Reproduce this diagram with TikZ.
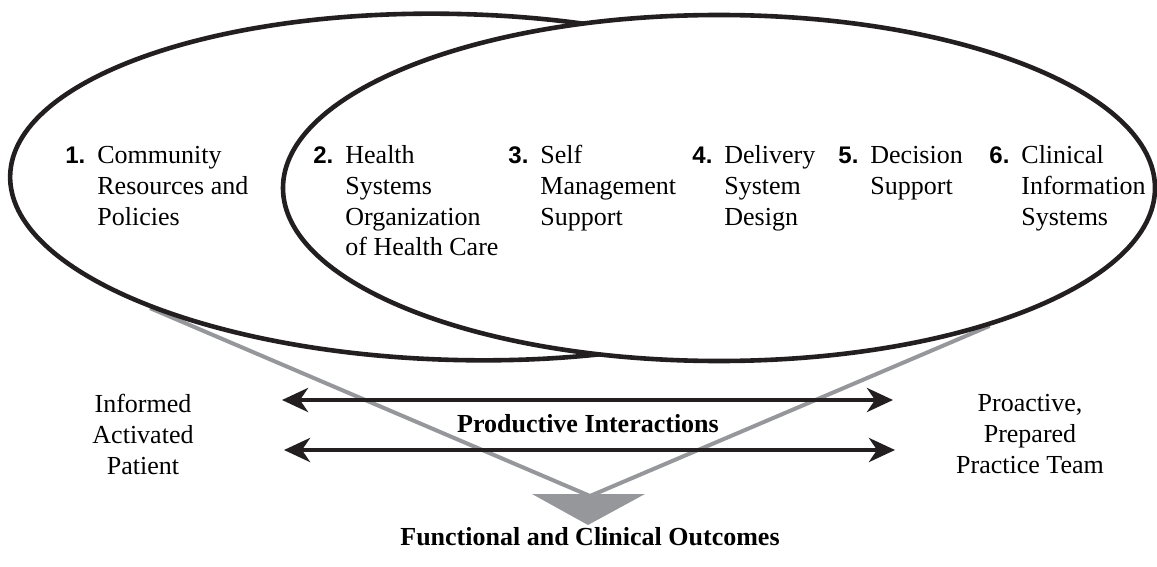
\documentclass[tikz,border=0pt]{standalone}
\usepackage{fontspec}
\setmainfont{Liberation Serif}
\newfontfamily\numfont{Liberation Sans}
\usetikzlibrary{shapes.geometric,arrows.meta,backgrounds}
\definecolor{ink}{RGB}{35,31,32}
\definecolor{linegray}{RGB}{150,151,155}
\newcommand{\numbered}[2]{\begin{tabular}[t]{@{}p{16pt}@{}l@{}}{\numfont\bfseries\fontsize{12}{15.5}\selectfont #1}&#2\end{tabular}}

\begin{document}
\begin{tikzpicture}[x=0.5pt, y=-0.5pt,
  oval/.style={draw=ink, line width=2.3pt, ellipse, fill=white, inner sep=0pt},
  element/.style={anchor=base west, inner sep=0pt, font=\fontsize{13}{15.5}\selectfont},
  label/.style={align=center, inner sep=0pt, font=\fontsize{13}{15.5}\selectfont},
  link/.style={draw=ink, line width=2.2pt, {Stealth[length=13pt,width=12pt,inset=4pt]}-{Stealth[length=13pt,width=12pt,inset=4pt]}},
  feed/.style={draw=linegray, line width=2pt}]
\useasboundingbox (0,0) rectangle (1157,567);

\node[oval, rotate=-1.5, minimum width=447.5pt, minimum height=173pt] (community) at (457.5,187) {};
\node[oval, minimum width=436pt, minimum height=173pt] (health) at (719,188) {};

\node[element] (e1) at (65,163) {\numbered{1.}{Community\\ & Resources and\\ & Policies}};
\node[element] (e2) at (313,163) {\numbered{2.}{Health\\ & Systems\\ & Organization\\ & of Health Care}};
\node[element] (e3) at (508,163) {\numbered{3.}{Self\\ & Management\\ & Support}};
\node[element] (e4) at (692,163) {\numbered{4.}{Delivery\\ & System\\ & Design}};
\node[element] (e5) at (838,163) {\numbered{5.}{Decision\\ & Support}};
\node[element] (e6) at (989,163) {\numbered{6.}{Clinical\\ & Information\\ & Systems}};

\node[label] (patient) at (143,434) {Informed\\Activated\\Patient};
\node[label] (team) at (1030,434) {Proactive,\\Prepared\\Practice Team};
\node[label, font=\fontsize{13}{15.5}\selectfont\bfseries] (interact) at (588,424) {Productive Interactions};
\node[label, font=\fontsize{13}{15.5}\selectfont\bfseries] (outcomes) at (590,537) {Functional and Clinical Outcomes};

\coordinate (a1) at (282,400);
\coordinate (b1) at (893,400);
\coordinate (a2) at (284,450);
\coordinate (b2) at (895,450);
\draw[link] (a1) -- (b1);
\draw[link] (a2) -- (b2);

\coordinate (tip) at (590,496);
\begin{scope}[on background layer]
\draw[feed] (community.203.5) -- (tip);
\draw[feed] (health.333.3) -- (tip);
\end{scope}
\fill[linegray] (532,494) -- (645,494) -- (588,525) -- cycle;

\end{tikzpicture}
\end{document}
